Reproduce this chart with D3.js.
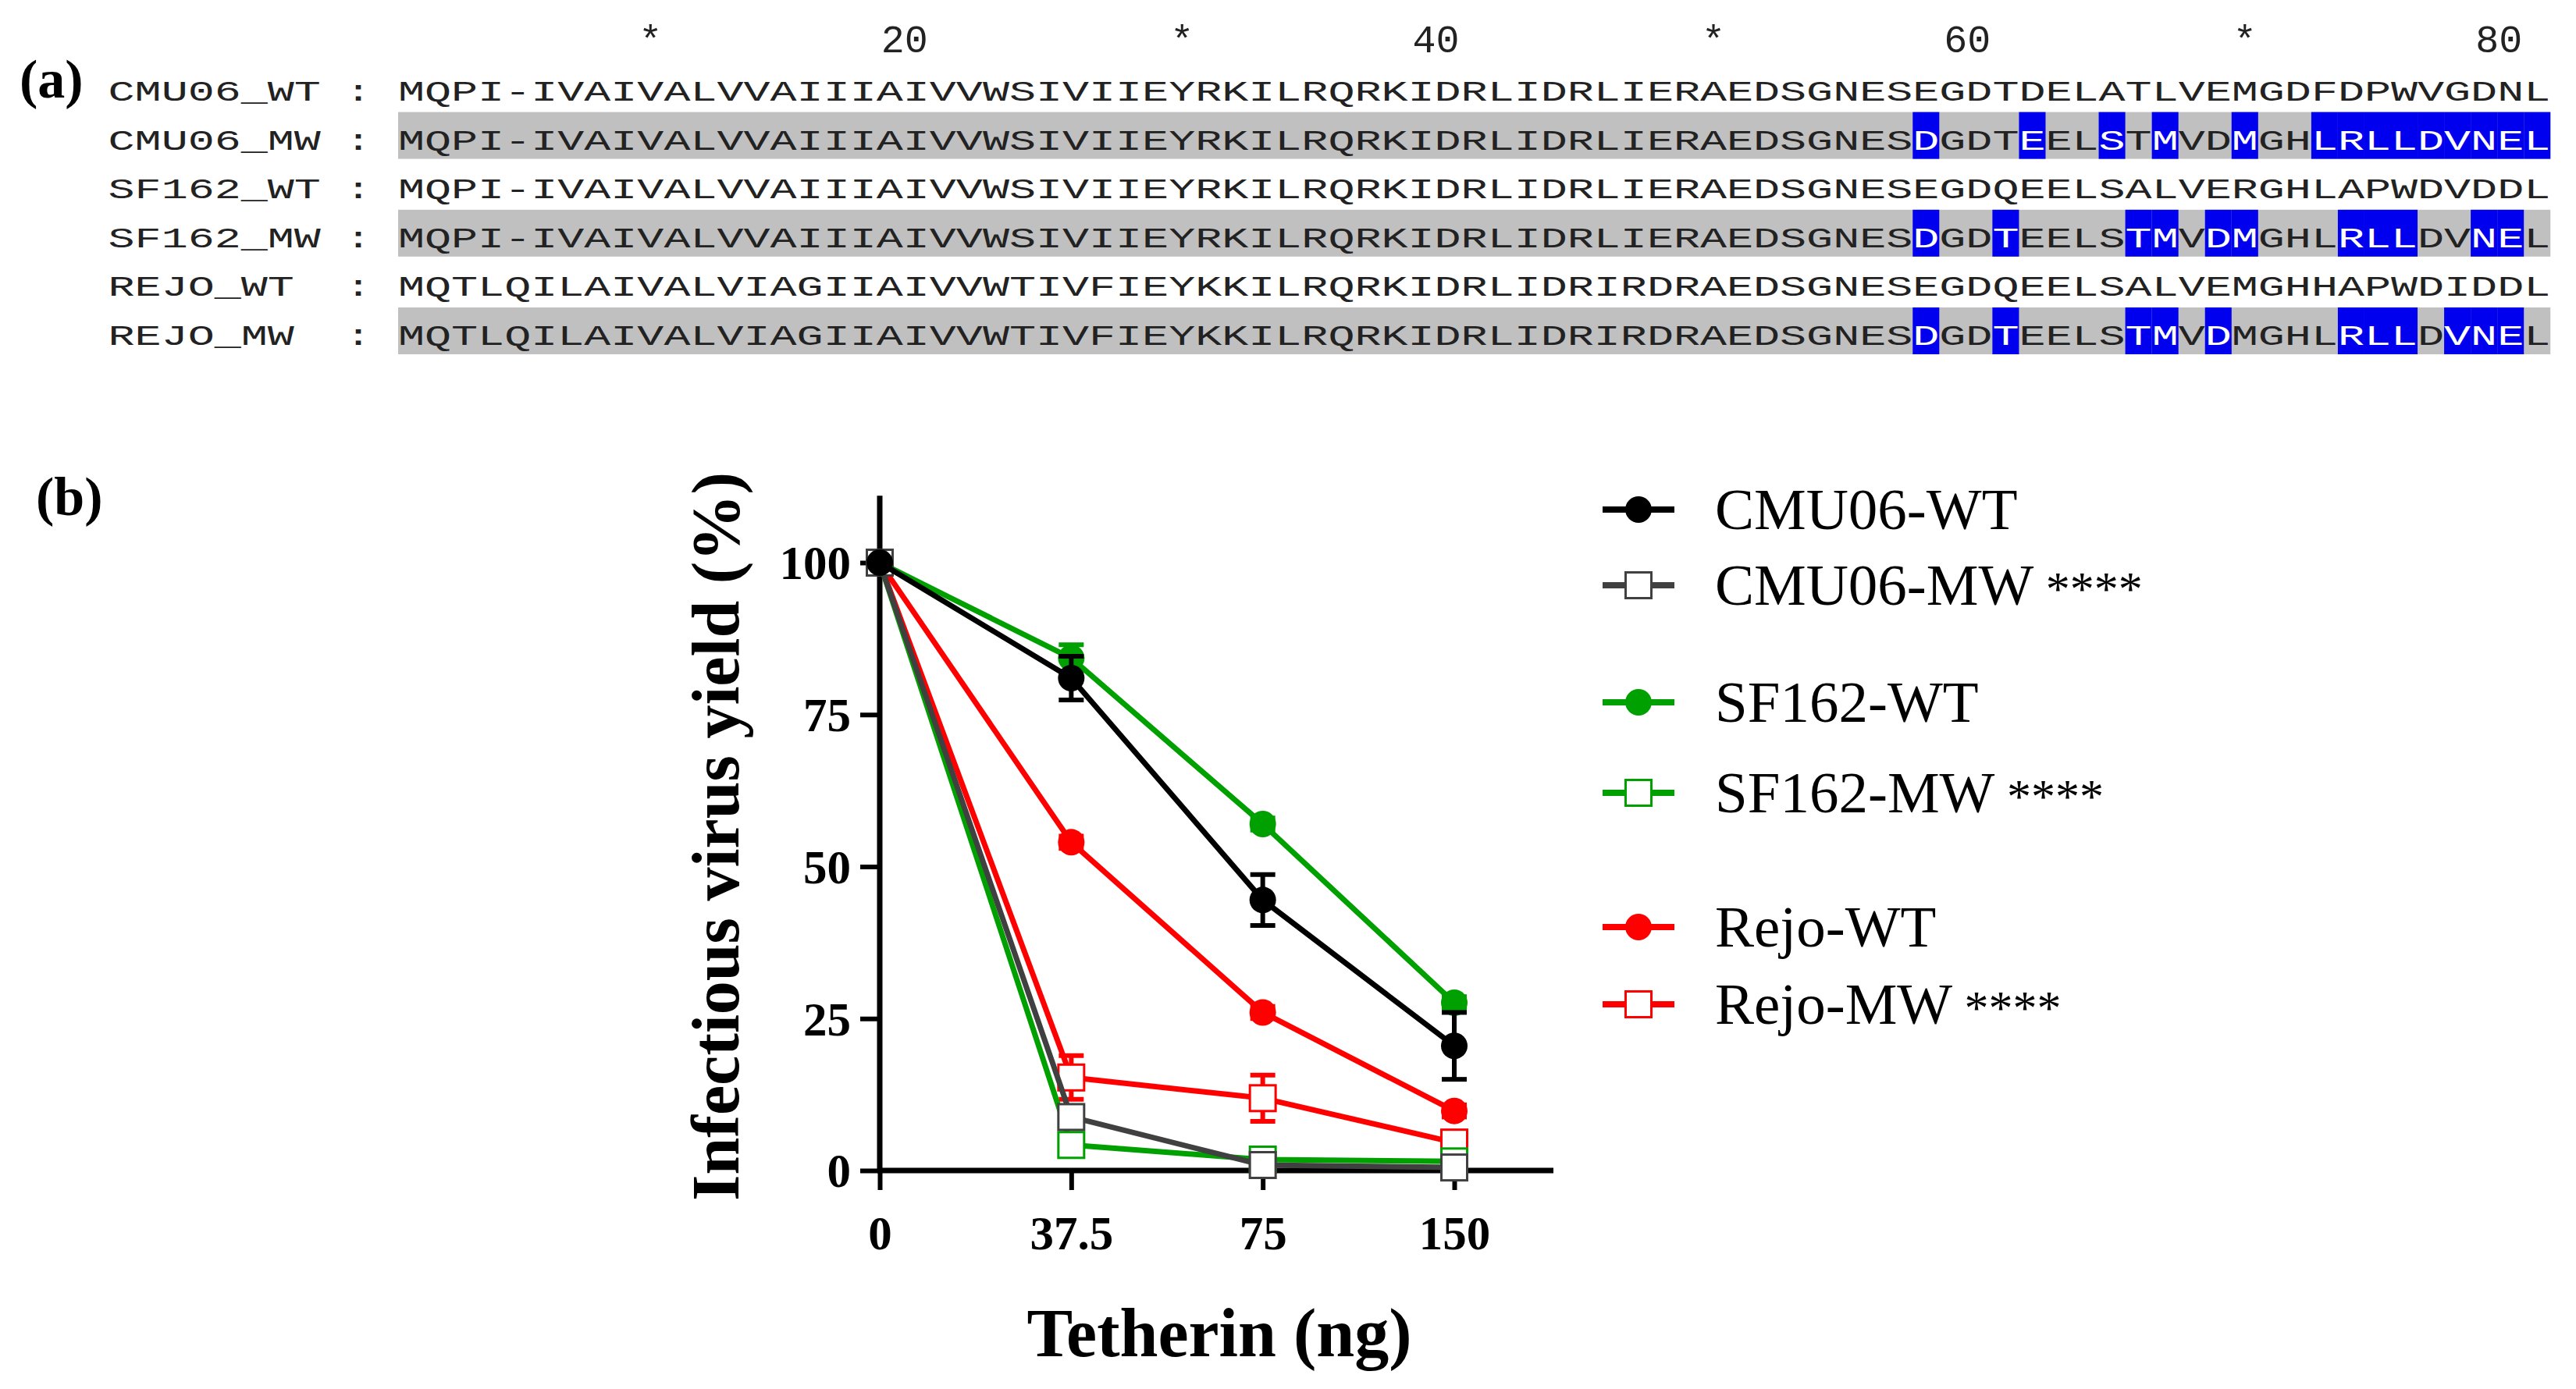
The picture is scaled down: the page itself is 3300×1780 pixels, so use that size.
<!DOCTYPE html>
<html lang="en">
<head>
<meta charset="utf-8">
<title>Vpu alignment and tetherin counteraction</title>
<script src="https://d3js.org/d3.v7.min.js"></script>
<style>
  body { margin: 0; background: #fff; }
  svg { display: block; }
</style>
</head>
<body>
<div id="chart"></div>
<script>

// ---------- panel (a): alignment ----------
var seqNames = ["CMU06_WT", "CMU06_MW", "SF162_WT", "SF162_MW", "REJO_WT", "REJO_MW"];
var seqs = [
  "MQPI-IVAIVALVVAIIIAIVVWSIVIIEYRKILRQRKIDRLIDRLIERAEDSGNESEGDTDELATLVEMGDFDPWVGDNL",
  "MQPI-IVAIVALVVAIIIAIVVWSIVIIEYRKILRQRKIDRLIDRLIERAEDSGNESDGDTEELSTMVDMGHLRLLDVNEL",
  "MQPI-IVAIVALVVAIIIAIVVWSIVIIEYRKILRQRKIDRLIDRLIERAEDSGNESEGDQEELSALVERGHLAPWDVDDL",
  "MQPI-IVAIVALVVAIIIAIVVWSIVIIEYRKILRQRKIDRLIDRLIERAEDSGNESDGDTEELSTMVDMGHLRLLDVNEL",
  "MQTLQILAIVALVIAGIIAIVVWTIVFIEYKKILRQRKIDRLIDRIRDRAEDSGNESEGDQEELSALVEMGHHAPWDIDDL",
  "MQTLQILAIVALVIAGIIAIVVWTIVFIEYKKILRQRKIDRLIDRIRDRAEDSGNESDGDTEELSTMVDMGHLRLLDVNEL"
];
var shadedRows = [false, true, false, true, false, true];
// 1-based columns drawn on blue
var blueCols = [
  [],
  [58, 62, 65, 67, 70, 73, 74, 75, 76, 77, 78, 79, 80, 81],
  [],
  [58, 61, 66, 67, 69, 70, 74, 75, 76, 79, 80],
  [],
  [58, 61, 66, 67, 69, 74, 75, 76, 78, 79, 80]
];
var rulerCols = [10, 20, 30, 40, 50, 60, 70, 80];
var rulerText = ["*", "20", "*", "40", "*", "60", "*", "80"];

// ---------- panel (b): infectious virus yield ----------
var doses = ["0", "37.5", "75", "150"];
var yTicks = [0, 25, 50, 75, 100];
var seriesNames = ["CMU06-WT", "CMU06-MW", "SF162-WT", "SF162-MW", "Rejo-WT", "Rejo-MW"];
var seriesStars = ["", "****", "", "****", "", "****"];
var seriesColors = ["#000000", "#404040", "#00a000", "#00a000", "#ff0000", "#ff0000"];
var seriesFilled = [true, false, true, false, true, false];
var cmu06WT = [100, 81, 44.5, 20.5];
var cmu06WTerr = [0, 3.6, 4.2, 5.5];
var cmu06MW = [100, 8.8, 0.9, 0.5];
var cmu06MWerr = [0, 0, 0, 0];
var sf162WT = [100, 84.3, 57, 27.6];
var sf162WTerr = [0, 2.2, 1, 1];
var sf162MW = [100, 4.2, 1.8, 1.5];
var sf162MWerr = [0, 0, 0, 0];
var rejoWT = [100, 54, 26, 9.8];
var rejoWTerr = [0, 1, 1, 1];
var rejoMW = [100, 15.3, 11.9, 4.6];
var rejoMWerr = [0, 3.6, 3.8, 0.5];

var values = [cmu06WT, cmu06MW, sf162WT, sf162MW, rejoWT, rejoMW];
var errors = [cmu06WTerr, cmu06MWerr, sf162WTerr, sf162MWerr, rejoWTerr, rejoMWerr];

var W = 3300, H = 1780;
var svg = d3.select("#chart").append("svg")
    .attr("width", W)
    .attr("height", H)
    .style("background", "#fff");

var serif = "'Liberation Serif', 'Times New Roman', serif";
var mono = "'Liberation Mono', 'DejaVu Sans Mono', monospace";

// ---------- draw panel (a) ----------
var col0 = 510, pitch = 34.04;       // left edge of column 1, column width
var seqFont = 36;
var stretch = pitch / (0.6 * seqFont); // courier-like wide glyphs
function colCenter(c) { return col0 + (c - 0.5) * pitch; }

svg.append("text")
    .attr("x", 25).attr("y", 125)
    .attr("font-family", serif).attr("font-weight", "bold")
    .attr("font-size", 70)
    .text("(a)");

var aln = svg.append("g").attr("class", "alignment");

// ruler above the alignment
aln.selectAll("text.ruler")
  .data(rulerCols)
  .enter().append("text")
    .attr("class", "ruler")
    .attr("x", function(d, i) { return rulerText[i] == "*" ? colCenter(d) : colCenter(d) + 15; })
    .attr("y", 67)
    .attr("text-anchor", function(d, i) { return rulerText[i] == "*" ? "middle" : "end"; })
    .attr("font-family", mono)
    .attr("font-size", 50)
    .attr("fill", "#222")
    .text(function(d, i) { return rulerText[i]; });

seqs.forEach(function(s, i) {
  var base = 129 + 62.6 * i;
  var row = aln.append("g");

  if (shadedRows[i]) {
    row.append("rect")
        .attr("x", col0).attr("y", base - 48)
        .attr("width", s.length * pitch).attr("height", 60)
        .attr("fill", "#c0c0c0");
  }
  blueCols[i].forEach(function(c) {
    row.append("rect")
        .attr("x", col0 + (c - 1) * pitch).attr("y", base - 48)
        .attr("width", pitch).attr("height", 60)
        .attr("fill", "#0000ee");
  });

  // name and colon
  row.append("text")
      .attr("transform", "translate(" + (col0 - 11 * pitch + 3) + "," + base + ") scale(" + stretch + ",1)")
      .attr("font-family", mono).attr("font-size", seqFont)
      .attr("fill", "#222")
      .text(seqNames[i]);
  row.append("text")
      .attr("transform", "translate(" + colCenter(-1) + "," + base + ") scale(" + stretch + ",1)")
      .attr("text-anchor", "middle")
      .attr("font-family", mono).attr("font-size", seqFont)
      .attr("fill", "#222")
      .text(":");

  row.selectAll("text.res")
    .data(s.split(""))
    .enter().append("text")
      .attr("class", "res")
      .attr("transform", function(d, k) {
        return "translate(" + colCenter(k + 1) + "," + base + ") scale(" + stretch + ",1)";
      })
      .attr("text-anchor", "middle")
      .attr("font-family", mono).attr("font-size", seqFont)
      .attr("fill", function(d, k) { return blueCols[i].indexOf(k + 1) >= 0 ? "#fff" : "#222"; })
      .text(function(d) { return d; });
});

// ---------- draw panel (b) ----------
svg.append("text")
    .attr("x", 46).attr("y", 660)
    .attr("font-family", serif).attr("font-weight", "bold")
    .attr("font-size", 70)
    .text("(b)");

var x = d3.scalePoint().domain(doses).range([1127, 1863]);
var y = d3.scaleLinear().domain([0, 100]).range([1500, 721]);

var plot = svg.append("g").attr("class", "plot");

// axes
var yAxis = plot.append("g")
    .attr("transform", "translate(" + x("0") + ",0)")
    .call(d3.axisLeft(y).tickValues(yTicks).tickSize(25).tickSizeOuter(0).tickPadding(12));
var xAxis = plot.append("g")
    .attr("transform", "translate(0," + y(0) + ")")
    .call(d3.axisBottom(x).tickSize(25).tickSizeOuter(0).tickPadding(32));

[yAxis, xAxis].forEach(function(a) {
  a.select(".domain").remove();
  a.selectAll(".tick line").attr("stroke", "#000").attr("stroke-width", 6);
  a.selectAll(".tick text")
      .attr("font-family", serif).attr("font-weight", "bold")
      .attr("font-size", 61).attr("fill", "#000");
});
yAxis.selectAll(".tick text").attr("dy", "0.34em");
xAxis.selectAll(".tick text").attr("dy", "0.72em");

plot.append("line")
    .attr("x1", x("0")).attr("x2", x("0"))
    .attr("y1", y(111)).attr("y2", y(0) + 3)
    .attr("stroke", "#000").attr("stroke-width", 7);
plot.append("line")
    .attr("x1", x("0") - 3).attr("x2", 1990)
    .attr("y1", y(0)).attr("y2", y(0))
    .attr("stroke", "#000").attr("stroke-width", 7);

// axis titles
svg.append("text")
    .attr("transform", "translate(946,1072) rotate(-90)")
    .attr("text-anchor", "middle")
    .attr("font-family", serif).attr("font-weight", "bold")
    .attr("font-size", 86)
    .text("Infectious virus yield (%)");
svg.append("text")
    .attr("x", 1562).attr("y", 1738)
    .attr("text-anchor", "middle")
    .attr("font-family", serif).attr("font-weight", "bold")
    .attr("font-size", 88)
    .text("Tetherin (ng)");

// series, back to front
var drawOrder = [4, 5, 2, 3, 1, 0];
var line = d3.line()
    .x(function(d) { return x(d.dose); })
    .y(function(d) { return y(d.v); });

function drawMarker(g, filled, color) {
  if (filled) {
    g.append("circle").attr("r", 17).attr("fill", color);
  } else {
    g.append("rect")
        .attr("x", -16.5).attr("y", -16.5)
        .attr("width", 33).attr("height", 33)
        .attr("fill", "#fff").attr("stroke", color).attr("stroke-width", 3);
  }
}

drawOrder.forEach(function(i) {
  var pts = doses.map(function(d, k) { return {dose: d, v: values[i][k], e: errors[i][k]}; });
  var color = seriesColors[i];
  var g = plot.append("g");

  g.append("path")
      .datum(pts)
      .attr("d", line)
      .attr("fill", "none")
      .attr("stroke", color)
      .attr("stroke-width", 7)
      .attr("stroke-linejoin", "round");

  var eb = g.selectAll("g.err")
    .data(pts.filter(function(p) { return p.e > 0; }))
    .enter().append("g").attr("class", "err")
      .attr("stroke", color).attr("stroke-width", 6);
  eb.append("line")
      .attr("x1", function(p) { return x(p.dose); }).attr("x2", function(p) { return x(p.dose); })
      .attr("y1", function(p) { return y(p.v + p.e); }).attr("y2", function(p) { return y(p.v - p.e); });
  eb.append("line")
      .attr("x1", function(p) { return x(p.dose) - 16; }).attr("x2", function(p) { return x(p.dose) + 16; })
      .attr("y1", function(p) { return y(p.v + p.e); }).attr("y2", function(p) { return y(p.v + p.e); });
  eb.append("line")
      .attr("x1", function(p) { return x(p.dose) - 16; }).attr("x2", function(p) { return x(p.dose) + 16; })
      .attr("y1", function(p) { return y(p.v - p.e); }).attr("y2", function(p) { return y(p.v - p.e); });

  pts.forEach(function(p) {
    var m = g.append("g").attr("transform", "translate(" + x(p.dose) + "," + y(p.v) + ")");
    drawMarker(m, seriesFilled[i], color);
  });
});

// legend
var legendY = [653, 750, 900, 1016, 1188, 1287];
var legend = svg.append("g").attr("class", "legend");
seriesNames.forEach(function(name, i) {
  var g = legend.append("g").attr("transform", "translate(0," + legendY[i] + ")");
  g.append("line")
      .attr("x1", 2053).attr("x2", 2145)
      .attr("stroke", seriesColors[i]).attr("stroke-width", 8);
  var m = g.append("g").attr("transform", "translate(2099,0)");
  drawMarker(m, seriesFilled[i], seriesColors[i]);
  var t = g.append("text")
      .attr("x", 2197).attr("y", 25)
      .attr("font-family", serif)
      .attr("font-size", 75)
      .text(name);
  if (seriesStars[i]) {
    t.append("tspan")
        .attr("font-size", 62)
        .text(" " + seriesStars[i]);
  }
});

</script>
</body>
</html>
